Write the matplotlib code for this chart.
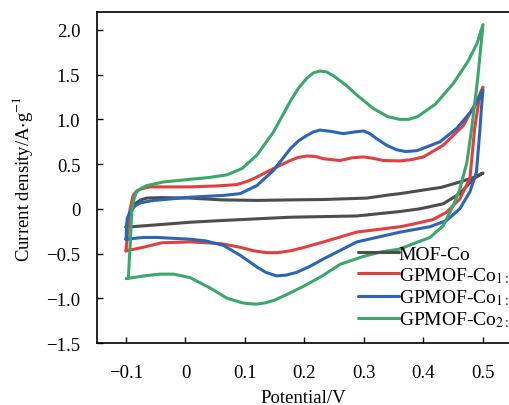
import matplotlib
matplotlib.use('Agg')
import matplotlib.pyplot as plt
import numpy as np

plt.rcParams['font.family'] = ['Liberation Serif', 'DejaVu Serif']
plt.rcParams['mathtext.fontset'] = 'stix'
plt.rcParams['axes.unicode_minus'] = True

# MOF-Co
mof_xf = [-0.1, -0.097, -0.093, -0.085, -0.075, -0.065, -0.04, 0.008, 0.06, 0.12, 0.18, 0.232, 0.305, 0.344, 0.361, 0.4, 0.43, 0.461, 0.484, 0.5]
mof_yf = [-0.205, -0.13, -0.056, 0.056, 0.10, 0.12, 0.125, 0.12, 0.10, 0.094, 0.10, 0.104, 0.12, 0.157, 0.17, 0.21, 0.24, 0.30, 0.35, 0.40]
mof_xr = [0.5, 0.484, 0.461, 0.433, 0.394, 0.361, 0.288, 0.176, 0.064, 0.008, -0.05, -0.1]
mof_yr = [0.40, 0.336, 0.17, 0.056, 0.0, -0.03, -0.08, -0.094, -0.13, -0.15, -0.18, -0.205]

# GPMOF-Co 1:2
r12_xf = [-0.1, -0.097, -0.093, -0.088, -0.082, -0.076, -0.06, -0.03, 0.008, 0.05, 0.086, 0.105, 0.12, 0.148, 0.176, 0.19, 0.204,
          0.218, 0.232, 0.26, 0.28, 0.299, 0.315, 0.332, 0.361, 0.38, 0.4, 0.433, 0.467, 0.489, 0.5]
r12_yf = [-0.47, -0.25, 0.0, 0.15, 0.20, 0.22, 0.245, 0.245, 0.245, 0.255, 0.27, 0.31, 0.355, 0.45, 0.54, 0.575, 0.59,
          0.585, 0.56, 0.54, 0.57, 0.58, 0.565, 0.54, 0.535, 0.55, 0.58, 0.71, 0.93, 1.2, 1.36]
r12_xr = [0.5, 0.493, 0.486, 0.478, 0.461, 0.439, 0.416, 0.383, 0.361, 0.288, 0.232, 0.2, 0.176, 0.155, 0.136, 0.115, 0.092, 0.06,
          0.036, 0.008, -0.04, -0.071, -0.1]
r12_yr = [1.36, 1.2, 0.9, 0.34, 0.11, -0.037, -0.12, -0.17, -0.2, -0.26, -0.37, -0.43, -0.47, -0.49, -0.49, -0.47, -0.43, -0.39,
          -0.38, -0.37, -0.38, -0.43, -0.47]

# GPMOF-Co 1:1
r11_xf = [-0.1, -0.098, -0.094, -0.09, -0.083, -0.076, -0.054, 0.008, 0.064, 0.092, 0.12, 0.148, 0.176, 0.19, 0.204, 0.215, 0.226,
          0.245, 0.265, 0.285, 0.299, 0.31, 0.321, 0.338, 0.355, 0.37, 0.389, 0.428, 0.456, 0.484, 0.5]
r11_yf = [-0.34, -0.11, -0.04, 0.0, 0.04, 0.067, 0.093, 0.13, 0.15, 0.17, 0.26, 0.43, 0.67, 0.76, 0.82, 0.86, 0.88,
          0.865, 0.84, 0.86, 0.87, 0.84, 0.785, 0.71, 0.66, 0.64, 0.65, 0.75, 0.90, 1.12, 1.33]
r11_xr = [0.5, 0.497, 0.495, 0.489, 0.478, 0.461, 0.439, 0.411, 0.361, 0.288, 0.232, 0.21, 0.187, 0.17, 0.153, 0.135, 0.12, 0.092,
          0.064, 0.035, 0.008, -0.048, -0.071, -0.1]
r11_yr = [1.33, 1.1, 0.9, 0.41, 0.19, 0.0, -0.13, -0.20, -0.26, -0.37, -0.56, -0.64, -0.71, -0.74, -0.75, -0.71, -0.65, -0.52,
          -0.41, -0.36, -0.34, -0.32, -0.32, -0.34]

# GPMOF-Co 2:1
r21_xf = [-0.099, -0.096, -0.093, -0.09, -0.086, -0.082, -0.074, -0.065, -0.037, 0.008, 0.04, 0.07, 0.095, 0.12, 0.148, 0.176,
          0.19, 0.204, 0.215, 0.226, 0.237, 0.248, 0.27, 0.29, 0.316, 0.34, 0.36, 0.375, 0.39, 0.42, 0.45, 0.475, 0.49, 0.5]
r21_yf = [-0.78, -0.77, -0.4, 0.0, 0.12, 0.19, 0.23, 0.26, 0.30, 0.33, 0.35, 0.38, 0.45, 0.6, 0.86, 1.2,
          1.35, 1.46, 1.52, 1.54, 1.53, 1.49, 1.38, 1.26, 1.12, 1.03, 1.0, 1.0, 1.03, 1.17, 1.4, 1.65, 1.85, 2.06]
r21_xr = [0.5, 0.491, 0.481, 0.473, 0.461, 0.45, 0.433, 0.411, 0.383, 0.36, 0.33, 0.3, 0.26, 0.23, 0.2, 0.176, 0.15, 0.135, 0.12,
          0.105, 0.095, 0.07, 0.04, 0.008, -0.02, -0.043, -0.07, -0.099]
r21_yr = [2.06, 1.45, 0.9, 0.52, 0.22, 0.037, -0.19, -0.32, -0.39, -0.45, -0.48, -0.53, -0.62, -0.75, -0.86, -0.94, -1.02, -1.05,
          -1.065, -1.06, -1.05, -1.0, -0.88, -0.77, -0.73, -0.73, -0.75, -0.78]

labels = ['MOF-Co', r'GPMOF-Co$_{1:2}$', r'GPMOF-Co$_{1:1}$', r'GPMOF-Co$_{2:1}$']
colors = ['#4d4d4d', '#e2403f', '#2a66b4', '#3aa86b']
curves = [(mof_xf, mof_yf, mof_xr, mof_yr),
          (r12_xf, r12_yf, r12_xr, r12_yr),
          (r11_xf, r11_yf, r11_xr, r11_yr),
          (r21_xf, r21_yf, r21_xr, r21_yr)]

xticks = [-0.1, 0, 0.1, 0.2, 0.3, 0.4, 0.5]
yticks = [-1.5, -1.0, -0.5, 0, 0.5, 1.0, 1.5, 2.0]

fig = plt.figure(figsize=(5.09, 4.06), dpi=100)
ax = fig.add_axes([0.1906, 0.1527, 0.8094, 0.8153])

for (xf, yf, xr, yr), c, lab in zip(curves, colors, labels):
    x = np.concatenate([xf, xr])
    y = np.concatenate([yf, yr])
    ax.plot(x, y, color=c, lw=2.2, label=lab, solid_joinstyle='round', solid_capstyle='round')

ax.set_xlim(-0.1487, 0.5437)
ax.set_ylim(-1.5, 2.2)
ax.set_xticks(xticks)
ax.set_yticks(yticks)

def fmt(v):
    if v == 0:
        return '0'
    return ('%.1f' % v).replace('-', '\u2212')

ax.set_xticklabels([fmt(v) for v in xticks])
ax.set_yticklabels([fmt(v) for v in yticks])
ax.tick_params(direction='in', length=4, width=1, labelsize=13.5)
ax.tick_params(axis='x', pad=15)
ax.tick_params(axis='y', pad=12)
ax.spines['right'].set_visible(False)
for s in ['left', 'bottom', 'top']:
    ax.spines[s].set_linewidth(1.2)

ax.set_xlabel('Potential/V', fontsize=13.5, labelpad=6)
ax.set_ylabel(r'Current density/A$\cdot$g$^{-1}$', fontsize=13.5, labelpad=8)

ax.legend(loc='upper left', bbox_to_anchor=(0.633, 0.295), frameon=False, fontsize=14,
          handlelength=2.1, handletextpad=0.0, labelspacing=0.12, borderpad=0, borderaxespad=0)

fig.savefig('out.png', dpi=100)
